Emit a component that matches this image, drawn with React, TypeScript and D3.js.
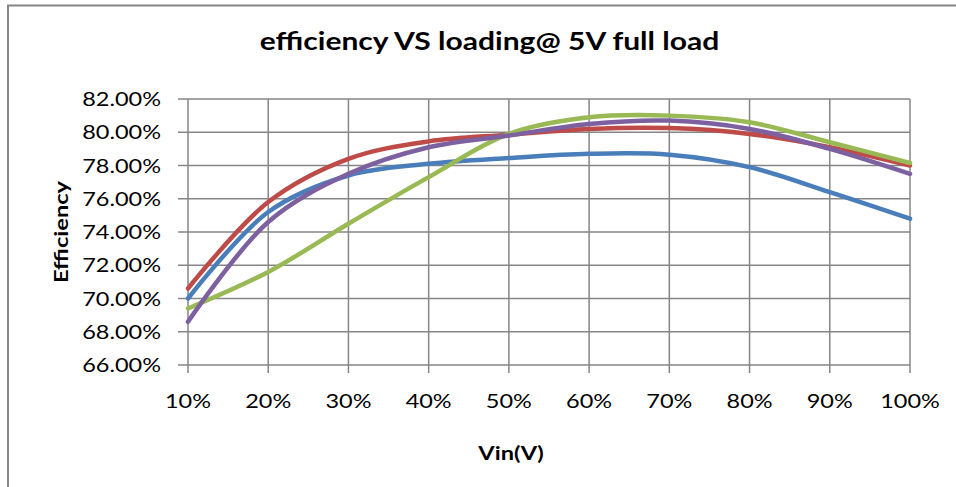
import React from "react";
import * as d3 from "d3";

// loading points on the x axis
const loads = ["10%", "20%", "30%", "40%", "50%", "60%", "70%", "80%", "90%", "100%"];
const yTicks = [66, 68, 70, 72, 74, 76, 78, 80, 82];

// efficiency readings (%) per series
const blueSeries = [70.0, 75.2, 77.4, 78.1, 78.45, 78.7, 78.65, 77.9, 76.4, 74.8];
const redSeries = [70.6, 75.8, 78.4, 79.45, 79.85, 80.2, 80.25, 79.9, 79.1, 78.0];
const greenSeries = [69.4, 71.6, 74.5, 77.3, 79.9, 80.9, 81.0, 80.6, 79.4, 78.15];
const purpleSeries = [68.6, 74.6, 77.5, 79.1, 79.8, 80.5, 80.7, 80.2, 79.0, 77.5];

const seriesColors = ["#4a7ebb", "#be4b48", "#98b954", "#7d60a0"];

const font = "Lato, 'Liberation Sans', sans-serif";

// text that is a bit wider than the font draws it (the source renders wide)
function Label({ x, y, anchor = "middle", size, bold = false, sx = 1.26, rotate = 0, children }: any) {
  return (
    <g transform={`translate(${x},${y}) rotate(${rotate}) scale(${sx},1)`}>
      <text
        textAnchor={anchor}
        style={{ fontFamily: font, fontWeight: bold ? 700 : 400, fontSize: `${size}px` }}
        fill="#000"
      >
        {children}
      </text>
    </g>
  );
}

export default function App() {
  const width = 956;
  const height = 487;
  const left = 188;
  const right = 910;
  const top = 99;
  const bottom = 365;

  const x = d3.scalePoint<string>().domain(loads).range([left, right]);
  const y = d3.scaleLinear().domain([66, 82]).range([bottom, top]);

  const line = d3
    .line<number>()
    .x((d, i) => x(loads[i]) as number)
    .y(d => y(d))
    .curve(d3.curveCatmullRom.alpha(0.5));

  const allSeries = [blueSeries, redSeries, greenSeries, purpleSeries];
  const grid = "#868686";

  return (
    <svg
      width={width}
      height={height}
      style={{ position: "absolute", left: 0, top: 0, background: "#fff" }}
    >
      <rect x={8} y={5.5} width={980} height={520} fill="none" stroke={grid} strokeWidth={2} />

      <Label x={489.5} y={50} size={25} bold sx={1.2}>
        efficiency VS loading@ 5V full load
      </Label>

      {yTicks.map(t => (
        <g key={t}>
          <line x1={left - 10} x2={right} y1={y(t)} y2={y(t)} stroke={grid} strokeWidth={1.5} />
          <Label x={161} y={y(t) + 7} anchor="end" size={18.5} sx={1.27}>
            {t.toFixed(2)}%
          </Label>
        </g>
      ))}

      {loads.map(l => (
        <g key={l}>
          <line x1={x(l)} x2={x(l)} y1={top} y2={bottom + 8} stroke={grid} strokeWidth={1.5} />
          <Label x={x(l)} y={408} size={18.5} sx={1.27}>
            {l}
          </Label>
        </g>
      ))}

      {allSeries.map((s, i) => (
        <path key={i} d={line(s) || ""} fill="none" stroke={seriesColors[i]} strokeWidth={4.5} strokeLinecap="round" />
      ))}

      <Label x={511} y={460} size={19.5} bold sx={1.21}>
        Vin(V)
      </Label>
      <Label x={68} y={232} size={18.75} bold sx={1.26} rotate={-90}>
        Efficiency
      </Label>
    </svg>
  );
}
